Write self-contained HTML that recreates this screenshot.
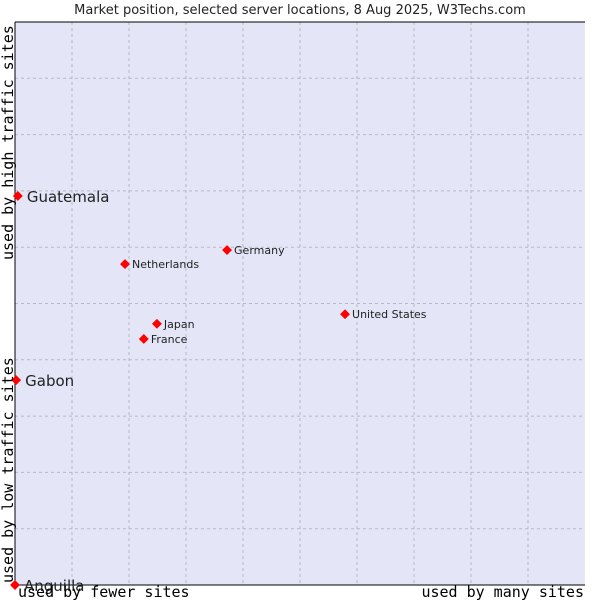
<!DOCTYPE html>
<html><head><meta charset="utf-8"><style>
body{margin:0;background:#fff;width:600px;height:600px;overflow:hidden}
</style></head><body>
<svg id="chart" width="600" height="600" xmlns="http://www.w3.org/2000/svg" font-family="'DejaVu Sans', sans-serif">
<text x="300" y="14" text-anchor="middle" font-size="13" fill="#222">Market position, selected server locations, 8 Aug 2025, W3Techs.com</text>
<rect x="15" y="22" width="570" height="563" fill="#e4e6f8" stroke="none"/>
<g id="grid"></g>
<line x1="15" y1="22" x2="15" y2="585" stroke="#000" stroke-width="1"/>
<line x1="15" y1="585" x2="585" y2="585" stroke="#000" stroke-width="1"/>
<line x1="15" y1="22" x2="585" y2="22" stroke="#000" stroke-width="1"/>
<g id="points"></g>
<text transform="translate(13,260) rotate(-90)" font-family="'DejaVu Sans Mono','Liberation Mono',monospace" font-size="15" fill="#000">used by high traffic sites</text>
<text transform="translate(13,583) rotate(-90)" font-family="'DejaVu Sans Mono','Liberation Mono',monospace" font-size="15" fill="#000">used by low traffic sites</text>
<text x="18" y="597" font-family="'DejaVu Sans Mono','Liberation Mono',monospace" font-size="15" fill="#000">used by fewer sites</text>
<text x="584" y="597" text-anchor="end" font-family="'DejaVu Sans Mono','Liberation Mono',monospace" font-size="15" fill="#000">used by many sites</text>
</svg>
<script>
const names=["Guatemala","Gabon","Anguilla","Netherlands","Germany","Japan","France","United States"];
const xs=[0.5,0.2,0,19.3,37.2,24.9,22.6,57.9];
const ys=[69.1,36.4,0,57.0,59.5,46.4,43.7,48.1];
const big=[true,true,true,false,false,false,false,false];
const NS="http://www.w3.org/2000/svg";
const X=v=>15+v*5.7, Y=v=>585-v*5.63;
const grid=document.getElementById('grid');
for(let i=1;i<10;i++){
  const l=document.createElementNS(NS,'line');
  
  
  l.setAttribute('x1',X(i*10));l.setAttribute('x2',X(i*10));l.setAttribute('y1',22);l.setAttribute('y2',585);
  l.setAttribute('stroke','#b8b8c0');l.setAttribute('stroke-dasharray','3,3');grid.appendChild(l);
  const h=document.createElementNS(NS,'line');
  
  
  h.setAttribute('x1',15);h.setAttribute('x2',585);h.setAttribute('y1',Y(i*10));h.setAttribute('y2',Y(i*10));
  h.setAttribute('stroke','#b8b8c0');h.setAttribute('stroke-dasharray','3,3');grid.appendChild(h);
}
const pts=document.getElementById('points');
names.forEach((n,i)=>{
  const cx=X(xs[i]),cy=Y(ys[i]);
  const d=document.createElementNS(NS,'rect');
  
  
  d.setAttribute('x',cx-3.5);d.setAttribute('y',cy-3.5);d.setAttribute('width',7);d.setAttribute('height',7);
  d.setAttribute('fill','#f00');d.setAttribute('transform','rotate(45 '+cx+' '+cy+')');pts.appendChild(d);
  const t=document.createElementNS(NS,'text');
  
  
  t.setAttribute('x',cx+(big[i]?9:7));t.setAttribute('y',cy+(big[i]?6:4));
  t.setAttribute('font-size',big[i]?15:11);t.setAttribute('fill','#222');
  t.textContent=n;pts.appendChild(t);
});
</script>
</body></html>
